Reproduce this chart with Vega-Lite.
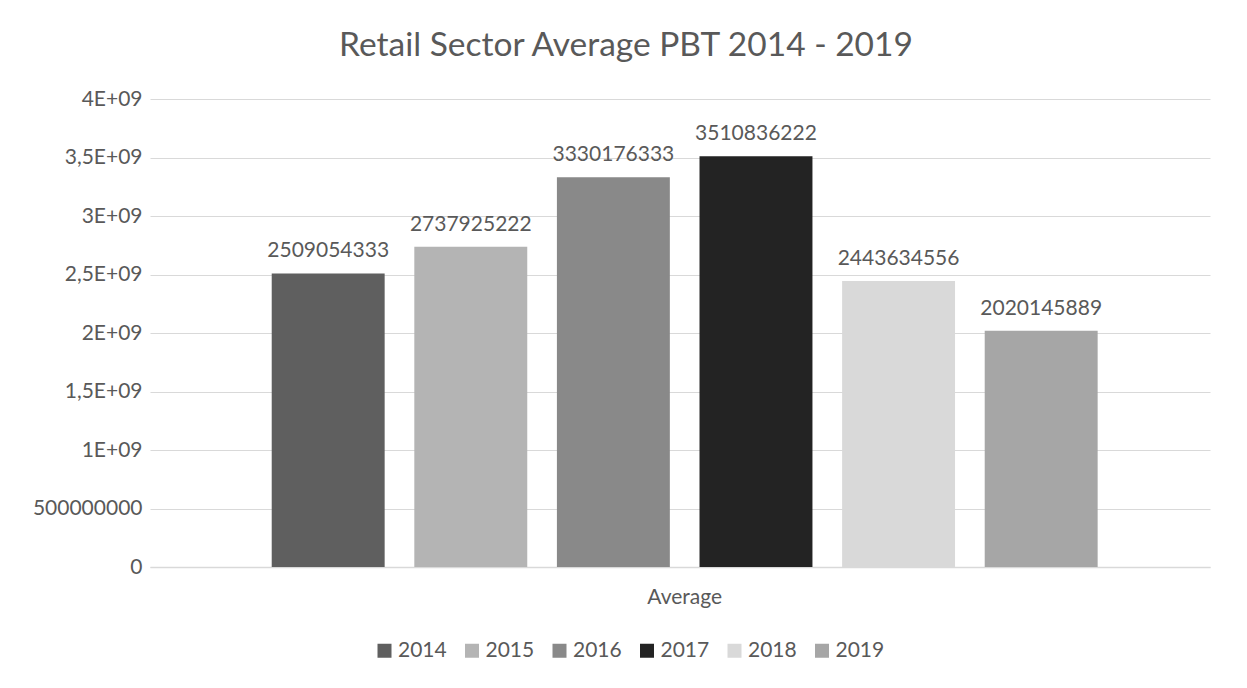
{
  "$schema": "https://vega.github.io/schema/vega-lite/v6.json",
  "width": 1060,
  "height": 468,
  "autosize": "none",
  "padding": {"left": 150, "top": 99, "right": 37, "bottom": 121},
  "background": "white",
  "config": {
    "view": {"stroke": null},
    "font": "Lato",
    "text": {"font": "Lato"}
  },
  "title": {
    "text": "Retail Sector Average PBT 2014 - 2019",
    "font": "Lato",
    "fontSize": 33.5,
    "fontWeight": "normal",
    "color": "#595959",
    "anchor": "middle",
    "dx": -54,
    "baseline": "alphabetic",
    "offset": -1
  },
  "data": {
    "values": [
      {"cat": "Average", "year": "2014", "value": 2509054333},
      {"cat": "Average", "year": "2015", "value": 2737925222},
      {"cat": "Average", "year": "2016", "value": 3330176333},
      {"cat": "Average", "year": "2017", "value": 3510836222},
      {"cat": "Average", "year": "2018", "value": 2443634556},
      {"cat": "Average", "year": "2019", "value": 2020145889}
    ]
  },
  "encoding": {
    "x": {
      "field": "cat",
      "type": "nominal",
      "scale": {"paddingInner": 0, "paddingOuter": 0.1417, "align": 0.52},
      "axis": {
        "title": null,
        "labelAngle": 0,
        "ticks": false,
        "domainColor": "#d9d9d9",
        "domainWidth": 1.5,
        "labelFont": "Lato",
        "labelFontSize": 21,
        "labelColor": "#595959",
        "labelPadding": 19
      }
    },
    "xOffset": {
      "field": "year",
      "type": "nominal",
      "scale": {"paddingInner": 0.208, "paddingOuter": 0}
    },
    "y": {
      "field": "value",
      "type": "quantitative",
      "scale": {"domain": [0, 4000000000], "nice": false},
      "axis": {
        "title": null,
        "values": [0, 500000000, 1000000000, 1500000000, 2000000000, 2500000000, 3000000000, 3500000000, 4000000000],
        "labelExpr": "datum.value == 0 ? '0' : datum.value == 500000000 ? '500000000' : replace(toString(datum.value / 1000000000), '.', ',') + 'E+09'",
        "ticks": false,
        "domain": false,
        "gridColor": "#d9d9d9",
        "gridWidth": 1,
        "labelFont": "Lato",
        "labelFontSize": 21,
        "labelColor": "#595959",
        "labelPadding": 8
      }
    },
    "color": {
      "field": "year",
      "type": "nominal",
      "scale": {
        "domain": ["2014", "2015", "2016", "2017", "2018", "2019"],
        "range": ["#5f5f5f", "#b4b4b4", "#898989", "#232323", "#d9d9d9", "#a6a6a6"]
      },
      "legend": {
        "title": null,
        "orient": "none",
        "direction": "horizontal",
        "legendX": 224,
        "legendY": 541,
        "symbolType": "square",
        "symbolSize": 196,
        "symbolStrokeWidth": 0,
        "symbolOpacity": 1,
        "labelFont": "Lato",
        "labelFontSize": 21,
        "labelColor": "#595959",
        "labelOffset": 3,
        "columnPadding": 14.5
      }
    }
  },
  "layer": [
    {"mark": {"type": "bar"}},
    {
      "mark": {"type": "text", "baseline": "alphabetic", "dy": -16, "fontSize": 21, "color": "#595959", "font": "Lato"},
      "encoding": {
        "text": {"field": "value", "type": "quantitative", "format": "d"},
        "color": {"value": "#595959"}
      }
    }
  ]
}
